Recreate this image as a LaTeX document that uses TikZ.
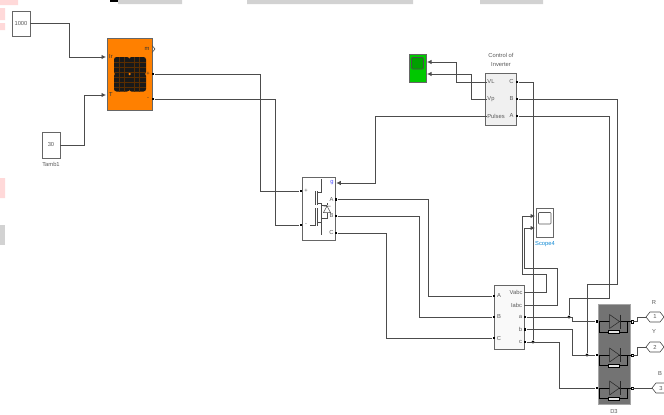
\documentclass[tikz,border=0pt]{standalone}
\usepackage{fontspec}
\setmainfont{Liberation Sans}
\usetikzlibrary{arrows.meta, shadows}
\definecolor{pvorange}{RGB}{255,128,0}
\definecolor{scopegreen}{RGB}{0,200,0}
\tikzset{
  wire/.style={draw=black!70, line width=0.8pt},
  feed/.style={wire, -{Latex[length=4.5pt,width=4.5pt]}},
  block/.style={draw=gray!80!black, fill=white, line width=0.8pt, inner sep=0pt,
    drop shadow={shadow xshift=1pt, shadow yshift=-1pt, fill=gray!60, opacity=1}},
  port/.style={fill=black, inner sep=0pt, minimum size=2.8pt},
  pin/.style={inner sep=0pt, minimum size=0.1pt},
  joint/.style={circle, fill=black, inner sep=0pt, minimum size=3.2pt},
  lbl/.style={font=\fontsize{5.8}{7}\selectfont, text=black!65, inner sep=0pt},
  outport/.style={draw=black!70, fill=white, line width=0.6pt, inner sep=0pt}
}
\begin{document}
\begin{tikzpicture}[x=1pt, y=-1pt, >=Stealth, font=\fontsize{5.8}{7}\selectfont]
  \useasboundingbox (0,0) rectangle (664,415);

  %% Leftovers along the edges
  \fill[gray!35] (118,0) rectangle (182,4) (247,0) rectangle (413,4) (480,0) rectangle (543,4);
  \fill[black] (110,0) rectangle (118,1.5);
  \fill[red!15] (0,0) rectangle (18,5) (0,8) rectangle (5,20) (0,23) rectangle (5,30) (0,178) rectangle (5,198);
  \fill[gray!35] (0,225) rectangle (5,245);

  %% Sources
  \node[block, minimum width=18pt, minimum height=25pt, lbl] (irr) at (21,23.5) {1000};
  \node[block, minimum width=18pt, minimum height=26pt, lbl] (tamb) at (51,145) {30};
  \node[lbl] (tamblbl) at (51,164) {Tamb1};

  %% PV array
  \node[block, fill=pvorange, minimum width=45pt, minimum height=72pt] (pv) at (129.5,74) {};
  \fill[black!90, rounded corners=2.5pt] (114,57) rectangle (129.5,74.5);
  \fill[black!90, rounded corners=2.5pt] (129,57) rectangle (146,74.5);
  \fill[black!90, rounded corners=2.5pt] (114,73.5) rectangle (129.5,91.5);
  \fill[black!90, rounded corners=2.5pt] (129,73.5) rectangle (146,91.5);
  \foreach \yy in {62,67,72,77,82,87}
    \draw[pvorange!35!black, line width=0.2pt] (114,\yy) -- (146,\yy);
  \foreach \xx in {119,124,134,139}
    \draw[pvorange!35!black, line width=0.2pt] (\xx,57) -- (\xx,91.5);
  \node[circle, fill=pvorange, inner sep=0pt, minimum size=2.5pt] (pvdot) at (129.5,74) {};
  \node[lbl, text=black!80] (pvir) at (111,57) {Ir};
  \node[lbl, text=black!80] (pvt) at (111,95) {T};
  \node[lbl, text=black!80] (pvm) at (147,49) {m};
  \node[lbl, text=black!80] (pvplus) at (148,74) {+};
  \node[lbl, text=black!80] (pvminus) at (148,99) {-};
  \node[port] (pvpos) at (153,74) {};
  \node[port] (pvneg) at (153,99) {};
  \coordinate (pvin1) at (106,57);
  \coordinate (pvin2) at (106,95);
  \draw[black!70, line width=0.6pt] (152,45.5) -- (155,49) -- (152,52.5);

  %% Inverter bridge
  \node[block, minimum width=33pt, minimum height=63pt] (igbt) at (318.5,208.5) {};
  \node[port] (igpos) at (301,191) {};
  \node[port] (igneg) at (301,225) {};
  \node[pin] (igg) at (336,183) {};
  \node[port] (iga) at (336,199.5) {};
  \node[port] (igb) at (336,216) {};
  \node[port] (igc) at (336,233) {};
  \node[lbl, text=blue!70] (iggl) at (332,183) {g};
  \node[lbl] (igal) at (331.5,199.5) {A};
  \node[lbl] (igbl) at (331.5,216) {B};
  \node[lbl] (igcl) at (331.5,233) {C};
  \node[lbl] (igpl) at (306,191) {+};
  \node[lbl] (igml) at (306,225) {-};
  \draw[black!70, line width=0.5pt]
    (321,179) -- (321,192) -- (317,192) (315,191) -- (315,205) (317,191) -- (317,205)
    (317,203) -- (321,203) -- (321,205) -- (327,205) (321,205) -- (321,235)
    (315,208) -- (315,226) (317,208) -- (317,226) (310,225) -- (315,225)
    (317,222) -- (321,222)
    (327,203) -- (327,205) (327,213) -- (327,218) -- (321,218);
  \draw[black!70, line width=0.5pt] (327,206) -- (323.5,212.5) -- (330.5,212.5) -- cycle
    (323.5,206) -- (330.5,206);

  %% Control block and its scope
  \node[block, fill=gray!12, minimum width=31pt, minimum height=52pt] (ctrl) at (500.5,99) {};
  \node[lbl, align=center] (ctrllbl) at (501,60) {Control of\\[2pt]Inverter};
  \node[lbl] (ctrlvl) at (491,82) {VL};
  \node[lbl] (ctrlvp) at (491,99) {Vp};
  \node[lbl] (ctrlpul) at (496,116) {Pulses};
  \node[lbl] (ctrlcl) at (511.5,82) {C};
  \node[lbl] (ctrlbl) at (511.5,99) {B};
  \node[lbl] (ctrlal) at (511.5,116) {A};
  \coordinate (ctrlin1) at (487,82);
  \coordinate (ctrlin2) at (487,99);
  \coordinate (ctrlin3) at (487,116);
  \node[port] (ctrlc) at (517,82) {};
  \node[port] (ctrlb) at (517,99) {};
  \node[port] (ctrla) at (517,116) {};
  \node[block, fill=scopegreen, minimum width=17pt, minimum height=28pt] (scopeg) at (417.5,68) {};
  \draw[black!70, fill=scopegreen!80!black, rounded corners=1pt, line width=0.6pt] (411.5,57.5) rectangle (423.5,69);
  \coordinate (scopegin1) at (427,62);
  \coordinate (scopegin2) at (427,74);

  %% Measurement block
  \node[block, fill=gray!5, minimum width=30pt, minimum height=64pt] (meas) at (509,317) {};
  \node[port] (measa) at (494,296) {};
  \node[port] (measb) at (494,317) {};
  \node[port] (measc) at (494,338) {};
  \node[lbl] (measal) at (499,296) {A};
  \node[lbl] (measbl) at (499,317) {B};
  \node[lbl] (meascl) at (499,338) {C};
  \node[lbl] (measvl) at (516,292) {Vabc};
  \node[lbl] (measil) at (516.5,305) {Iabc};
  \node[lbl] (measpal) at (520.5,317) {a};
  \node[lbl] (measpbl) at (520.5,329.5) {b};
  \node[lbl] (measpcl) at (520.5,342) {c};
  \node[pin] (measv) at (524,292) {};
  \node[pin] (measi) at (524,305) {};
  \node[port] (mepa) at (525,317) {};
  \node[port] (mepb) at (525,329.5) {};
  \node[port] (mepc) at (525,342) {};

  %% Scope4
  \node[block, minimum width=17pt, minimum height=29pt] (scopef) at (544.5,222.5) {};
  \draw[gray!70!black, rounded corners=0.8pt, line width=0.6pt] (538.5,212.5) rectangle (551,224);
  \node[lbl, text=cyan!70!blue] (scopeflbl) at (545,244) {Scope4};
  \coordinate (scopefin1) at (535,216);
  \coordinate (scopefin2) at (535,228);

  %% Diode stack
  \node[fill=gray!90!black, draw=gray!70, minimum width=32pt, minimum height=100pt, inner sep=0pt] (stack) at (614,354) {};
  \node[lbl] (stacklbl) at (614,411) {D3};
  \foreach \nam/\yy in {one/321.5,two/355,three/388} {
    \node[port] (in\nam) at (597,\yy) {};
    \node[draw=black, fill=white, line width=0.4pt, inner sep=0pt, minimum size=2.4pt] (out\nam) at (632,\yy) {};
    \draw[black, line width=0.5pt] (in\nam) -- (out\nam);
    \draw[black!85, fill=gray!90!black, line width=0.5pt] (609.5,\yy-7) -- (619.5,\yy) -- (609.5,\yy+7) -- cycle;
    \draw[black!85, line width=0.6pt] (620,\yy-7) -- (620,\yy+7);
    \draw[black, line width=0.5pt] (599.5,\yy) -- (599.5,\yy+10.5) -- (608,\yy+10.5)
      (619,\yy+10.5) -- (627.5,\yy+10.5) -- (627.5,\yy);
    \draw[black, fill=gray!20, line width=0.4pt] (608,\yy+9) rectangle (619,\yy+12);
  }

  %% Output ports
  \foreach \nam/\xa/\yy/\txt/\lab/\lx/\ly in {r/646/317/1/R/654/303,y/646/347/2/Y/654/332,b/652/388/3/B/660/374} {
    \draw[outport] (\xa,\yy) -- (\xa+4,\yy-5) -- (\xa+14,\yy-5) -- (\xa+18,\yy) -- (\xa+14,\yy+5) -- (\xa+4,\yy+5) -- cycle;
    \node[lbl] (num\nam) at (\xa+9,\yy) {\txt};
    \node[lbl] (lab\nam) at (\lx,\ly) {\lab};
    \coordinate (op\nam) at (\xa,\yy);
  }

  %% Connections
  \draw[feed] (irr) ++(9,0) -- ++(39,0) |- (pvin1);
  \draw[feed] (tamb) ++(9,0) -- ++(24,0) |- (pvin2);
  \draw[wire] (pvpos) -- ++(107,0) |- (igpos);
  \draw[wire] (pvneg) -- ++(122,0) |- (igneg);
  \draw[feed] (ctrlin3) -- ++(-112,0) |- (igg);
  \draw[wire] (iga) -- ++(92,0) |- (measa);
  \draw[wire] (igb) -- ++(83,0) |- (measb);
  \draw[wire] (igc) -- ++(50,0) |- (measc);
  \draw[feed] (ctrlin1) -- ++(-31,0) |- (scopegin1);
  \draw[feed] (ctrlin2) -- ++(-16,0) |- (scopegin2);
  \node[joint] (jc) at (533,342) {};
  \node[joint] (ja) at (569,317) {};
  \node[joint] (jb) at (587,355) {};
  \draw[wire] (ctrlc) -| (jc);
  \draw[wire] (ctrlb) -- ++(100,0) |- (587,284) -- (jb);
  \draw[wire] (ctrla) -- ++(92,0) |- (569,298) -- (ja);
  \draw[feed] (measv) -- ++(22,0) |- (522,274) |- (scopefin1);
  \draw[feed] (measi) -- ++(33,0) |- (524,268) |- (scopefin2);
  \draw[wire] (mepa) -- ++(47,0) |- (inone);
  \draw[wire] (mepb) -- ++(47,0) |- (intwo);
  \draw[wire] (mepc) -- ++(34,0) |- (inthree);
  \draw[wire] (outone) -- ++(5,0) |- (opr);
  \draw[wire] (outtwo) -- ++(5,0) |- (opy);
  \draw[wire] (outthree) -- (opb);
\end{tikzpicture}
\end{document}
